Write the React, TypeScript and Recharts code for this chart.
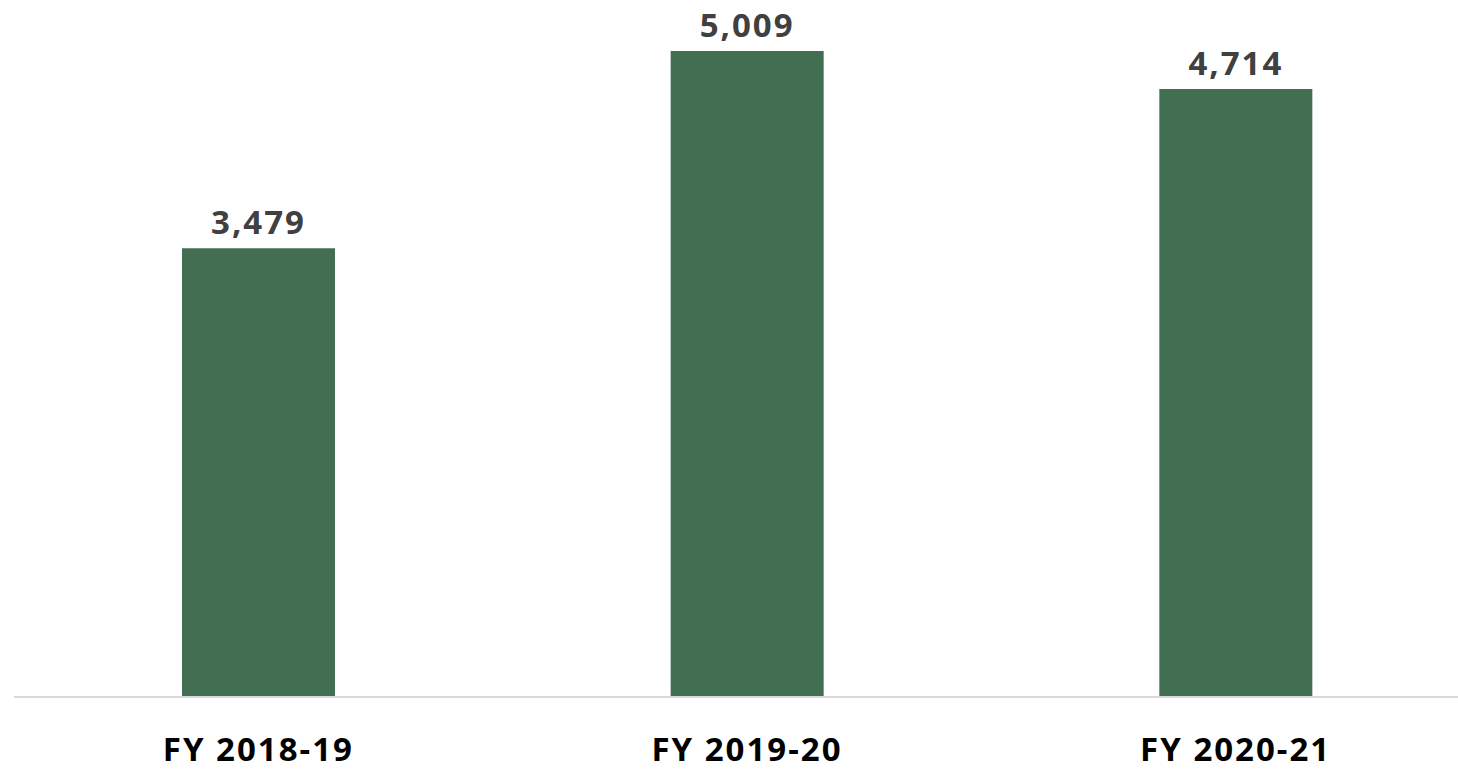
import { BarChart, Bar, XAxis, YAxis, LabelList } from "recharts";

const years = ["FY 2018-19", "FY 2019-20", "FY 2020-21"];
const counts = [3479, 5009, 4714];

const data = years.map((year, i) => ({ year, count: counts[i] }));

const font = "'Open Sans', 'Liberation Sans', sans-serif";

export default function App() {
  return (
    <div
      style={{
        position: "absolute",
        left: 0,
        top: 0,
        width: 1458,
        height: 773,
        overflow: "hidden",
        background: "#fff",
      }}
    >
      <BarChart
        width={1458}
        height={773}
        data={data}
        margin={{ top: 51, right: -22, bottom: 0, left: 14 }}
        barSize={153}
      >
        <XAxis
          dataKey="year"
          height={76}
          axisLine={{ stroke: "#d9d9d9", strokeWidth: 2 }}
          tickLine={false}
          tickSize={0}
          tickMargin={41}
          tick={{ fill: "#000", fontSize: 33, fontWeight: 700, fontFamily: font, letterSpacing: 2 }}
        />
        <YAxis hide domain={[0, "dataMax"]} />
        <Bar dataKey="count" fill="#426e51" isAnimationActive={false}>
          <LabelList
            dataKey="count"
            position="top"
            offset={14}
            formatter={(v: any) => Number(v).toLocaleString("en-US")}
            style={{ fill: "#404040", fontSize: 33, fontWeight: 700, fontFamily: font, letterSpacing: 2 }}
          />
        </Bar>
      </BarChart>
    </div>
  );
}
